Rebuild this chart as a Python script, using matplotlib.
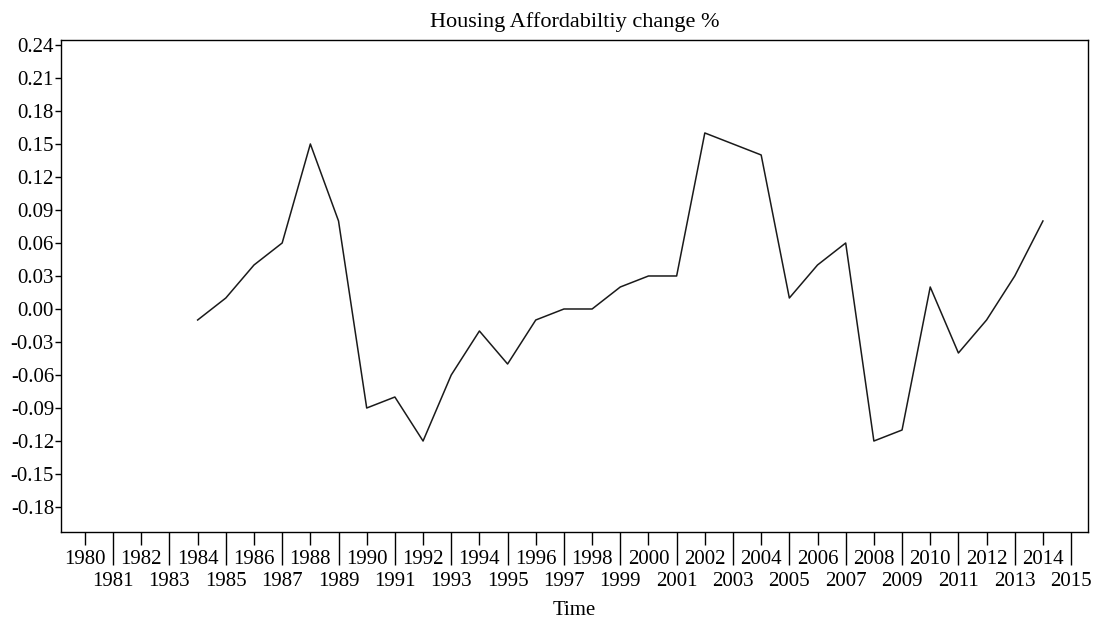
import matplotlib
matplotlib.use("Agg")
import matplotlib.pyplot as plt
from matplotlib.ticker import FixedLocator, FuncFormatter

plt.rcParams['font.family'] = ['Liberation Serif', 'DejaVu Serif']
plt.rcParams['axes.unicode_minus'] = False

# yearly change of housing affordability
years = list(range(1984, 2015))
change = [-0.01, 0.01, 0.04, 0.06, 0.15, 0.08, -0.09, -0.08, -0.12, -0.06,
          -0.02, -0.05, -0.01, 0.00, 0.00, 0.02, 0.03, 0.03, 0.16, 0.15,
          0.14, 0.01, 0.04, 0.06, -0.12, -0.11, 0.02, -0.04, -0.01, 0.03,
          0.08]

even_years = list(range(1980, 2016, 2))
odd_years = list(range(1981, 2016, 2))
y_ticks = [round(-0.18 + 0.03 * i, 2) for i in range(15)]

fig = plt.figure(figsize=(10.99, 6.25), dpi=100)
ax = fig.add_axes([0.0555, 0.1488, 0.9345, 0.7872])

ax.plot(years, change, color='#1a1a1a', linewidth=1.1)

ax.set_xlim(1979.15, 2015.6)
ax.set_ylim(-0.2027, 0.2445)

ax.set_yticks(y_ticks)
ax.yaxis.set_major_formatter(FuncFormatter(lambda v, p: "%.2f" % v))
ax.tick_params(axis='y', direction='out', length=4.5, width=1, labelsize=15, pad=0.5)

# even years: short ticks, labels on first row; odd years: long ticks, second row
ax.xaxis.set_major_locator(FixedLocator(even_years))
ax.xaxis.set_minor_locator(FixedLocator(odd_years))
ax.xaxis.set_major_formatter(FuncFormatter(lambda v, p: "%d" % v))
ax.xaxis.set_minor_formatter(FuncFormatter(lambda v, p: "%d" % v))
ax.tick_params(axis='x', which='major', direction='out', length=9.4, width=1, labelsize=15, pad=3.4)
ax.tick_params(axis='x', which='minor', direction='out', length=23.8, width=1, labelsize=15, pad=5)

for s in ax.spines.values():
    s.set_linewidth(1)

ax.set_title("Housing Affordabiltiy change %", fontsize=16, pad=9)
ax.set_xlabel("Time", fontsize=15, labelpad=7.5)

plt.savefig('out.png', dpi=100)
